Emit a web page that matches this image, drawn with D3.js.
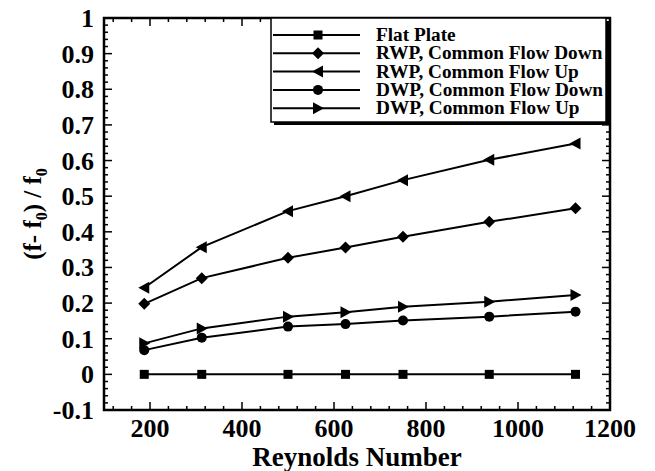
<!DOCTYPE html>
<html>
<head>
<meta charset="utf-8">
<script src="https://cdn.jsdelivr.net/npm/d3@7"></script>
<style>
  body { margin: 0; background: #fff; }
  text { font-family: "Liberation Serif", "Times New Roman", serif; font-weight: bold; fill: #000; }
</style>
</head>
<body>
<div id="chart"></div>
<script>
// ---------------- data ----------------
const reynolds = [187.5, 312.5, 500, 625, 750, 937.5, 1125];
const flatPlate = [0, 0, 0, 0, 0, 0, 0];
const rwpDown = [0.198, 0.27, 0.327, 0.356, 0.386, 0.428, 0.466];
const rwpUp = [0.243, 0.357, 0.458, 0.5, 0.545, 0.602, 0.648];
const dwpDown = [0.068, 0.103, 0.134, 0.141, 0.151, 0.162, 0.176];
const dwpUp = [0.087, 0.129, 0.162, 0.174, 0.19, 0.204, 0.223];
const seriesNames = ["Flat Plate", "RWP, Common Flow Down", "RWP, Common Flow Up",
  "DWP, Common Flow Down", "DWP, Common Flow Up"];
const markers = ["square", "diamond", "triLeft", "circle", "triRight"];
const xTicks = [200, 400, 600, 800, 1000, 1200];
const yTicks = [-0.1, 0, 0.1, 0.2, 0.3, 0.4, 0.5, 0.6, 0.7, 0.8, 0.9, 1];

const series = [flatPlate, rwpDown, rwpUp, dwpDown, dwpUp].map((vals, i) => ({
  name: seriesNames[i],
  marker: markers[i],
  values: vals.map((v, j) => ({ x: reynolds[j], y: v }))
}));

// ---------------- svg ----------------
const width = 655, height = 471;
const margin = { top: 18, right: 45, bottom: 61, left: 104 };
const svg = d3.select("#chart").append("svg")
  .attr("width", width).attr("height", height);

const xScale = d3.scaleLinear().domain([100, 1200]).range([margin.left, width - margin.right]);
const yScale = d3.scaleLinear().domain([-0.1, 1]).range([height - margin.bottom, margin.top]);

// marker shapes
function drawMarker(g, type, x, y) {
  if (type === "square") {
    g.append("rect").attr("x", x - 4.5).attr("y", y - 4.5).attr("width", 9).attr("height", 9);
  } else if (type === "diamond") {
    g.append("path").attr("d", `M${x},${y - 6}L${x + 6},${y}L${x},${y + 6}L${x - 6},${y}Z`);
  } else if (type === "circle") {
    g.append("circle").attr("cx", x).attr("cy", y).attr("r", 5);
  } else if (type === "triLeft") {
    g.append("path").attr("d", `M${x - 6},${y}L${x + 5},${y - 6}L${x + 5},${y + 6}Z`);
  } else if (type === "triRight") {
    g.append("path").attr("d", `M${x + 6},${y}L${x - 5},${y - 6}L${x - 5},${y + 6}Z`);
  }
}

// ---------------- axes ----------------
const xMinor = d3.range(120, 1200, 40).filter(v => v % 200 !== 0);
const yMinor = d3.range(-10, 100, 2).filter(v => v % 10 !== 0).map(v => v / 100);

const x0 = xScale.range()[0], x1 = xScale.range()[1];
const y0 = yScale.range()[0], y1 = yScale.range()[1];

const ticksG = svg.append("g").attr("stroke", "#000").attr("stroke-width", 1.5);
// bottom + top
xTicks.forEach(v => {
  ticksG.append("line").attr("x1", xScale(v)).attr("x2", xScale(v)).attr("y1", y0).attr("y2", y0 - 8);
  ticksG.append("line").attr("x1", xScale(v)).attr("x2", xScale(v)).attr("y1", y1).attr("y2", y1 + 8);
});
xMinor.forEach(v => {
  ticksG.append("line").attr("x1", xScale(v)).attr("x2", xScale(v)).attr("y1", y0).attr("y2", y0 - 4);
  ticksG.append("line").attr("x1", xScale(v)).attr("x2", xScale(v)).attr("y1", y1).attr("y2", y1 + 4);
});
// left + right
yTicks.forEach(v => {
  ticksG.append("line").attr("y1", yScale(v)).attr("y2", yScale(v)).attr("x1", x0).attr("x2", x0 + 8);
  ticksG.append("line").attr("y1", yScale(v)).attr("y2", yScale(v)).attr("x1", x1).attr("x2", x1 - 8);
});
yMinor.forEach(v => {
  ticksG.append("line").attr("y1", yScale(v)).attr("y2", yScale(v)).attr("x1", x0).attr("x2", x0 + 4);
  ticksG.append("line").attr("y1", yScale(v)).attr("y2", yScale(v)).attr("x1", x1).attr("x2", x1 - 4);
});

// tick labels
svg.append("g").selectAll("text").data(xTicks).enter().append("text")
  .attr("x", d => xScale(d)).attr("y", y0 + 27)
  .attr("text-anchor", "middle").style("font-size", "26px")
  .text(d => d);

svg.append("g").selectAll("text").data(yTicks).enter().append("text")
  .attr("x", x0 - 10).attr("y", d => yScale(d) + 9)
  .attr("text-anchor", "end").style("font-size", "26px")
  .text(d => String(+d.toFixed(1)));

// axis titles
svg.append("text")
  .attr("x", (x0 + x1) / 2).attr("y", 466)
  .attr("text-anchor", "middle").style("font-size", "27px")
  .text("Reynolds Number");

const yl = svg.append("text")
  .attr("transform", "translate(41,214) rotate(-90)")
  .attr("text-anchor", "middle").style("font-size", "25px");
yl.append("tspan").text("(f- f");
yl.append("tspan").attr("dy", 6).style("font-size", "16px").text("0");
yl.append("tspan").attr("dy", -6).text(") / f");
yl.append("tspan").attr("dy", 6).style("font-size", "16px").text("0");

// ---------------- lines ----------------
const line = d3.line().x(d => xScale(d.x)).y(d => yScale(d.y));

const lines = svg.selectAll(".serie").data(series).enter().append("g").attr("class", "serie");
lines.append("path")
  .attr("d", d => line(d.values))
  .attr("fill", "none").attr("stroke", "#000").attr("stroke-width", 2);
lines.each(function (d) {
  const g = d3.select(this).append("g").attr("fill", "#000");
  d.values.forEach(p => drawMarker(g, d.marker, xScale(p.x), yScale(p.y)));
});

// ---------------- frame ----------------
svg.append("rect")
  .attr("x", x0).attr("y", y1).attr("width", x1 - x0).attr("height", y0 - y1)
  .attr("fill", "none").attr("stroke", "#000").attr("stroke-width", 2.5);

// ---------------- legend ----------------
const lg = svg.append("g");
const lx = 271, ly = 18, lw = 335, lh = 104;
lg.append("rect").attr("x", lx + 3).attr("y", ly + 3).attr("width", lw).attr("height", lh).attr("fill", "#000");
lg.append("rect").attr("x", lx).attr("y", ly).attr("width", lw).attr("height", lh)
  .attr("fill", "#fff").attr("stroke", "#000").attr("stroke-width", 1.5);

series.forEach((s, i) => {
  const cy = 35 + i * 18.3;
  lg.append("line").attr("x1", 273).attr("x2", 360).attr("y1", cy).attr("y2", cy)
    .attr("stroke", "#000").attr("stroke-width", 2);
  const mg = lg.append("g").attr("fill", "#000");
  drawMarker(mg, s.marker, 318, cy);
  // text slightly stretched sideways, like the reference
  lg.append("text").attr("transform", `translate(376,${cy + 6}) scale(1.07,1)`)
    .style("font-size", "18px").text(s.name);
});
</script>
</body>
</html>
